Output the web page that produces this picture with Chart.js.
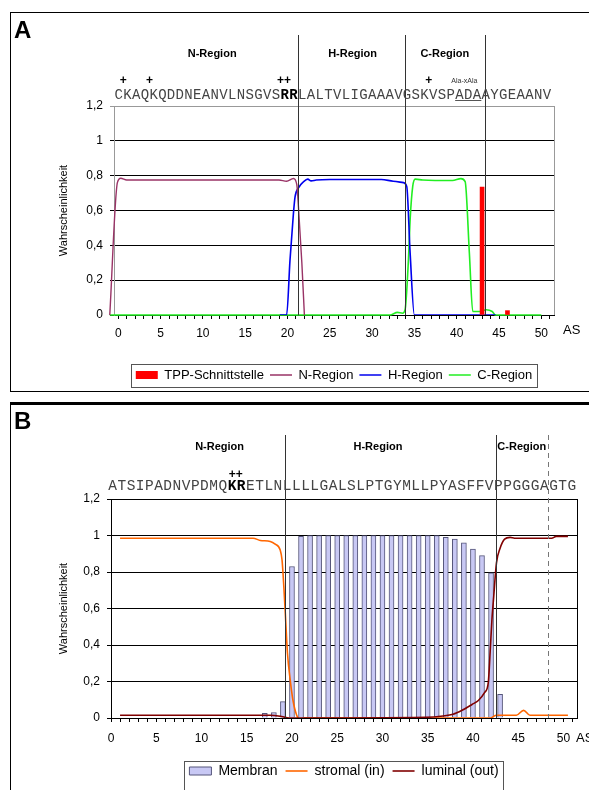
<!DOCTYPE html>
<html>
<head>
<meta charset="utf-8">
<script src="https://cdn.jsdelivr.net/npm/chart.js@4.4.1/dist/chart.umd.min.js"></script>
<style>
html, body { margin: 0; padding: 0; background: #fff; }
body { width: 589px; height: 790px; position: relative; overflow: hidden; font-family: "Liberation Sans", Arial, sans-serif; }
.frame { position: absolute; border: 1px solid #000; }
#frameA { left: 10px; top: 12px; width: 620px; height: 378px; }
#frameB { left: 10px; top: 402px; width: 620px; height: 420px; border-top-width: 3px; }
.tag { position: absolute; left: 14px; font-weight: bold; font-size: 24px; line-height: 28px; }
canvas { position: absolute; left: 0; }
#chartA { top: 0; }
#chartB { top: 395px; }
</style>
</head>
<body>
<div class="frame" id="frameA"></div>
<div class="frame" id="frameB"></div>
<canvas id="chartA" width="589" height="395"></canvas>
<canvas id="chartB" width="589" height="395"></canvas>
<div class="tag" style="top:16px">A</div>
<div class="tag" style="top:407px">B</div>
<script>
// ---- Panel A: TargetP-artige Vorhersage (N-, H-, C-Region)
const aTppX = [43, 46];
const aTppY = [0.735, 0.025];
const aNX = [-1, -0.1, 0.3, 1, 5, 10, 15, 19, 19.9, 20.7, 21.1, 21.3, 21.7, 22.0];
const aNY = [0, 0.76, 0.785, 0.775, 0.775, 0.775, 0.775, 0.775, 0.768, 0.784, 0.75, 0.62, 0.3, 0];
const aHX = [19.1, 19.9, 20.3, 20.7, 20.9, 21.3, 21.9, 22.4, 22.8, 23.4, 25, 31.1, 32.5, 33.7, 34.1, 34.5, 35.0, 44.6];
const aHY = [0, 0, 0.315, 0.58, 0.68, 0.73, 0.765, 0.78, 0.77, 0.775, 0.778, 0.778, 0.768, 0.76, 0.737, 0.354, 0, 0];
const aCX = [-1, 32.1, 33.0, 33.6, 33.9, 34.3, 34.5, 34.8, 35.1, 36, 39.5, 40.5, 41.0, 41.5, 41.9, 42.7, 43.5, 44.2, 44.6, 50];
const aCY = [0, 0, 0.015, 0.01, 0.03, 0.32, 0.55, 0.737, 0.78, 0.775, 0.772, 0.783, 0.766, 0.354, 0.02, 0.02, 0.03, 0.02, 0, 0];
const aSeq = "CKAQKQDDNEANVLNSGVSRRLALTVLIGAAAVGSKVSPADAAYGEAANV";

// ---- Panel B: Membran / stromal / luminal
const bMemX = [17, 18, 19, 20, 21, 22, 23, 24, 25, 26, 27, 28, 29, 30, 31, 32, 33, 34, 35, 36, 37, 38, 39, 40, 41, 42, 43];
const bMemY = [0.025, 0.03, 0.09, 0.83, 0.995, 1, 1, 1, 1, 1, 1, 1, 1, 1, 1, 1, 1, 1, 1, 1, 0.99, 0.98, 0.96, 0.925, 0.89, 0.795, 0.13];
const bStrX = [1, 15.7, 16.5, 17.6, 18.1, 18.7, 18.9, 19.1, 19.3, 19.5, 19.8, 20.1, 20.5, 20.9, 21.4, 41.9, 42.6, 44.8, 45.6, 46.3, 50.5];
const bStrY = [0.985, 0.985, 0.973, 0.967, 0.954, 0.92, 0.867, 0.72, 0.54, 0.356, 0.21, 0.1, 0.018, -0.008, 0, 0, 0.015, 0.015, 0.042, 0.015, 0.015];
const bLumX = [1, 17.6, 18.7, 19.7, 34.8, 36.7, 37.8, 38.8, 39.9, 40.6, 41.3, 41.7, 41.9, 42.1, 42.3, 42.6, 43.0, 43.5, 44.1, 44.6, 48.7, 49.2, 50.5];
const bLumY = [0.015, 0.015, 0.01, 0, 0.004, 0.011, 0.02, 0.042, 0.074, 0.096, 0.14, 0.196, 0.36, 0.54, 0.668, 0.85, 0.93, 0.98, 0.99, 0.985, 0.985, 0.995, 0.995];
const bSeq = "ATSIPADNVPDMQKRETLNLLLLGALSLPTGYMLLPYASFFVPPGGGAGTG";

const yTicks = [0, 0.2, 0.4, 0.6, 0.8, 1, 1.2];

Chart.defaults.font.family = '"Liberation Sans", Arial, sans-serif';
Chart.defaults.color = "#000";
Chart.defaults.animation = false;

const pts = (xs, ys) => xs.map((x, i) => ({ x, y: ys[i] }));
const yLabel = v => String(Math.round(v * 10) / 10).replace(".", ",");

// region lines, sequence, labels, right frame and legend box
const headerPlugin = {
  id: "header",
  afterDraw(chart, args, o) {
    const { ctx, chartArea: ca } = chart;
    const x = chart.scales.x;
    ctx.save();
    ctx.lineWidth = 1;
    ctx.strokeStyle = o.frameColor;
    ctx.beginPath();
    ctx.moveTo(Math.round(ca.right) + 0.5, ca.top);
    ctx.lineTo(Math.round(ca.right) + 0.5, ca.bottom);
    ctx.stroke();

    o.lines.forEach(l => {
      const px = Math.round(x.getPixelForValue(l.x)) + 0.5;
      ctx.setLineDash(l.dash || []);
      ctx.strokeStyle = l.dash ? "#777" : "#333";
      ctx.beginPath();
      ctx.moveTo(px, ca.top - o.lineTop);
      ctx.lineTo(px, ca.bottom);
      ctx.stroke();
    });
    ctx.setLineDash([]);

    ctx.fillStyle = "#000";
    ctx.textAlign = "center";
    ctx.textBaseline = "middle";
    ctx.font = 'bold 11px "Liberation Sans", Arial, sans-serif';
    o.regions.forEach(r => ctx.fillText(r.text, x.getPixelForValue(r.x), ca.top - o.regionY));
    ctx.font = 'bold 12px "Liberation Sans", Arial, sans-serif';
    o.marks.forEach(m => ctx.fillText(m.text, x.getPixelForValue(m.x), ca.top - o.markY));
    if (o.small) {
      ctx.font = '7px "Liberation Sans", Arial, sans-serif';
      ctx.fillStyle = "#333";
      ctx.fillText(o.small.text, x.getPixelForValue(o.small.x), ca.top - o.markY);
    }

    // sequence, one char per cell
    const x0 = x.getPixelForValue(o.seqFrom);
    const pitch = (x.getPixelForValue(o.seqTo) - x0) / o.seq.length;
    const sy = ca.top - o.seqY;
    [...o.seq].forEach((c, i) => {
      const b = o.bold.includes(i + 1);
      ctx.font = (b ? "bold " : "") + o.seqSize + 'px "Liberation Mono", "Courier New", monospace';
      ctx.fillStyle = b ? "#000" : "#444";
      ctx.fillText(c, x0 + pitch * (i + 0.5), sy);
    });
    if (o.underline) {
      ctx.strokeStyle = "#555";
      ctx.beginPath();
      ctx.moveTo(x0 + pitch * (o.underline[0] - 1), Math.round(sy + 5) + 0.5);
      ctx.lineTo(x0 + pitch * o.underline[1], Math.round(sy + 5) + 0.5);
      ctx.stroke();
    }

    ctx.fillStyle = "#000";
    ctx.textAlign = "left";
    ctx.font = '13px "Liberation Sans", Arial, sans-serif';
    ctx.fillText(o.unit, ca.right + o.unitDx, ca.bottom + o.unitDy);

    // frame round the legend
    const hb = chart.legend && chart.legend.legendHitBoxes;
    if (hb && hb.length) {
      const l = Math.min(...hb.map(h => h.left)) - 5;
      const r = Math.max(...hb.map(h => h.left + h.width)) + 5;
      const t = Math.min(...hb.map(h => h.top)) - o.legendPadTop;
      const btm = Math.max(...hb.map(h => h.top + h.height)) + o.legendPadBottom;
      ctx.strokeStyle = "#555";
      ctx.strokeRect(Math.round(l) + 0.5, Math.round(t) + 0.5, Math.round(r - l), Math.round(btm - t));
    }
    ctx.restore();
  }
};

function makeScales(xMin, yBorder, topGrid, yWidth, xHeight, xPad) {
  return {
    x: {
      type: "linear", min: xMin, max: 51.5, offset: false,
      afterBuildTicks: ax => { ax.ticks = []; for (let v = 0; v <= 51; v++) ax.ticks.push({ value: v }); },
      afterFit: ax => { ax.height = xHeight; },
      ticks: { autoSkip: false, maxRotation: 0, padding: xPad, font: { size: 12 }, callback: v => (v % 5 === 0 ? v : "") },
      grid: { offset: false, drawOnChartArea: false, color: "#000", tickLength: 4 },
      border: { color: "#000" }
    },
    y: {
      min: 0, max: 1.2,
      afterBuildTicks: ax => { ax.ticks = yTicks.map(v => ({ value: v })); },
      afterFit: ax => { ax.width = yWidth; },
      ticks: { padding: 7, font: { size: 12 }, callback: yLabel },
      grid: { color: c => (Math.abs(c.tick.value - 1.2) < 1e-6 ? topGrid : "#000"), tickLength: 4 },
      border: { color: yBorder },
      title: { display: true, text: "Wahrscheinlichkeit", font: { size: 11 }, padding: { top: 0, bottom: 0 } }
    }
  };
}

function legendOpts(size, pad) {
  return {
    position: "bottom",
    fullSize: false,
    labels: {
      usePointStyle: true, pointStyleWidth: 22, boxHeight: 8, padding: pad,
      font: { size: size }, color: "#000",
      sort: (a, b) => a.datasetIndex - b.datasetIndex
    }
  };
}

const lineStyle = { pointRadius: 0, pointStyle: "line", borderWidth: 1.6, cubicInterpolationMode: "monotone", fill: false };

new Chart(document.getElementById("chartA"), {
  type: "line",
  data: {
    datasets: [
      { type: "bar", label: "TPP-Schnittstelle", data: pts(aTppX, aTppY), backgroundColor: "#ff0000", borderWidth: 0, barThickness: 4, pointStyle: "rect", order: 0 },
      { ...lineStyle, label: "N-Region", data: pts(aNX, aNY), borderColor: "#993366", borderWidth: 1.4, order: 1, clip: { left: 8, top: 2, right: 2, bottom: 2 } },
      { ...lineStyle, label: "H-Region", data: pts(aHX, aHY), borderColor: "#0000ee", order: 2 },
      { ...lineStyle, label: "C-Region", data: pts(aCX, aCY), borderColor: "#22ee22", order: 3, clip: { left: 8, top: 2, right: 2, bottom: 2 } }
    ]
  },
  plugins: [headerPlugin],
  options: {
    responsive: false,
    layout: { padding: { top: 106, left: 57, right: 35, bottom: 3.5 } },
    scales: makeScales(-0.5, "#999", "#999", 57, 47.5, 7),
    plugins: {
      legend: legendOpts(13, 6),
      tooltip: { enabled: false },
      header: {
        frameColor: "#999",
        lines: [{ x: 21.2 }, { x: 33.9 }, { x: 43.4 }],
        lineTop: 71,
        regions: [{ text: "N-Region", x: 11.1 }, { text: "H-Region", x: 27.7 }, { text: "C-Region", x: 38.6 }],
        regionY: 52,
        marks: [{ text: "+", x: 0.6 }, { text: "+", x: 3.7 }, { text: "++", x: 19.6 }, { text: "+", x: 36.7 }],
        markY: 25,
        small: { text: "Ala-xAla", x: 40.9 },
        seq: aSeq, seqFrom: -0.47, seqTo: 51.18, seqY: 11, seqSize: 14,
        bold: [20, 21], underline: [40, 42],
        unit: "AS", unitDx: 9, unitDy: 15,
        legendPadTop: 4.5, legendPadBottom: 5.5
      }
    }
  }
});

new Chart(document.getElementById("chartB"), {
  type: "line",
  data: {
    datasets: [
      { type: "bar", label: "Membran", data: pts(bMemX, bMemY), backgroundColor: "#c8c8f4", borderColor: "#55557a", borderWidth: 1, barThickness: 5, pointStyle: "rect", order: 2 },
      { ...lineStyle, label: "stromal (in)", data: pts(bStrX, bStrY), borderColor: "#ff6600", order: 1 },
      { ...lineStyle, label: "luminal (out)", data: pts(bLumX, bLumY), borderColor: "#800000", order: 0 }
    ]
  },
  plugins: [headerPlugin],
  options: {
    responsive: false,
    layout: { padding: { top: 104, left: 57, right: 12, bottom: 2 } },
    scales: makeScales(0, "#000", "#000", 54, 38, 9),
    plugins: {
      legend: legendOpts(14, 8),
      tooltip: { enabled: false },
      header: {
        frameColor: "#000",
        lines: [{ x: 19.2 }, { x: 42.5 }, { x: 48.3, dash: [5, 4] }],
        lineTop: 64,
        regions: [{ text: "N-Region", x: 12.0 }, { text: "H-Region", x: 29.5 }, { text: "C-Region", x: 45.4 }],
        regionY: 52,
        marks: [{ text: "++", x: 13.8 }],
        markY: 24,
        seq: bSeq, seqFrom: -0.33, seqTo: 51.44, seqY: 13, seqSize: 14.5,
        bold: [14, 15],
        unit: "AS", unitDx: -1, unitDy: 20,
        legendPadTop: 3, legendPadBottom: 20
      }
    }
  }
});
</script>
</body>
</html>
